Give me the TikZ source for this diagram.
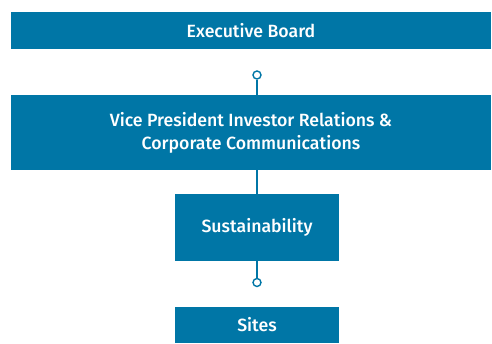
\documentclass[tikz,border=0pt]{standalone}
\usepackage{fontspec}
\setmainfont{Fira Sans}[BoldFont={Fira Sans Medium}]
\definecolor{boxblue}{RGB}{0,118,166}
\begin{document}
\begin{tikzpicture}[x=1pt,y=-1pt,
  orgbox/.style={fill=boxblue,draw=none,text=white,font=\bfseries\fontsize{17.7}{23}\selectfont,align=center,inner sep=0pt},
  link/.style={draw=boxblue,line width=1.4pt},
  knob/.style={circle,draw=boxblue,fill=white,line width=1.4pt,minimum size=8pt,inner sep=0pt}]
\useasboundingbox (0,0) rectangle (492,343);
\node[orgbox,minimum width=480pt,minimum height=37pt] (eb) at (251,30.5) {Executive Board};
\node[orgbox,minimum width=480pt,minimum height=75pt] (vp) at (251,132.5) {Vice President Investor Relations \&\\Corporate Communications};
\node[orgbox,minimum width=164pt,minimum height=67pt] (su) at (257,227.5) {Sustainability};
\node[orgbox,minimum width=164pt,minimum height=36pt] (si) at (257,325) {Sites};
\node[knob] (k1) at (257,75) {};
\node[knob] (k2) at (257,282.5) {};
\coordinate (vptop) at (257,95);
\coordinate (vpbot) at (257,170);
\coordinate (sutop) at (257,194);
\coordinate (subot) at (257,261);
\draw[link] (k1) -- (vptop);
\draw[link] (vpbot) -- (sutop);
\draw[link] (subot) -- (k2);
\end{tikzpicture}
\end{document}
